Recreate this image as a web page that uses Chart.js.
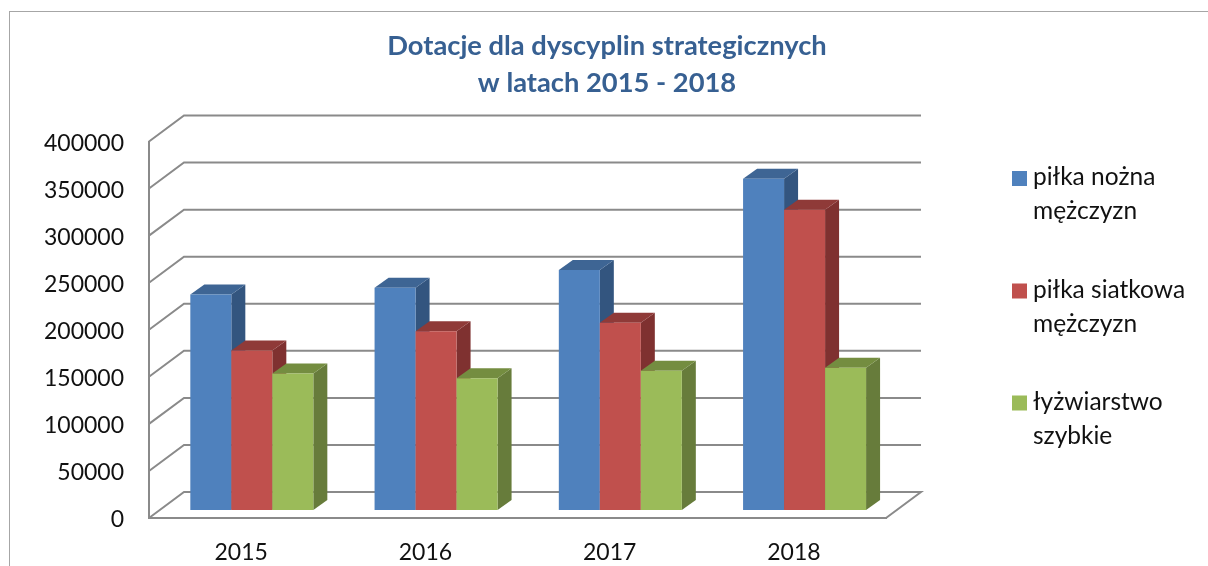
<!DOCTYPE html>
<html><head><meta charset="utf-8">
<style>
html,body{margin:0;padding:0;background:#fff;overflow:hidden}
#wrap{position:relative;width:1208px;height:566px}
#frame{position:absolute;left:9px;top:11px;width:1300px;height:700px;border:1px solid #a6a6a6;box-sizing:border-box}
canvas{position:absolute;left:0;top:0}
</style>
<script src="https://cdn.jsdelivr.net/npm/chart.js@4/dist/chart.umd.min.js"></script>
</head><body>
<div id="wrap"><div id="frame"></div><canvas id="c" width="1208" height="566"></canvas></div>
<script>
const categories = ['2015','2016','2017','2018'];
const pilkaNozna = [229000,236000,255000,352000];
const pilkaSiatkowa = [169500,190000,199000,319000];
const lyzwiarstwo = [145000,140000,148000,151000];
const legendNozna = ['piłka nożna','mężczyzn'];
const legendSiatkowa = ['piłka siatkowa','mężczyzn'];
const legendLyzwy = ['łyżwiarstwo','szybkie'];
const titleLines = ['Dotacje dla dyscyplin strategicznych','w latach 2015 - 2018'];

const FONT = 'Lato, Carlito, sans-serif';
const FS = 23;
const LFS = 24.5;
const front = ['#4f81bd','#c0504d','#9bbb59'];
const tops = ['#3e6594','#8f3a38','#748d40'];
const sides = ['#33557f','#7f3130','#677c3b'];
const GRID = '#8a8a8a';
const WALL = {dx:35, dy:-26};
const BAR = {ox:10.7, oy:-8, dx:14, dy:-10};
const legendLines = [legendNozna, legendSiatkowa, legendLyzwy];
const legendY = [178.5,291,403];

const box3d = {
  id:'box3d',
  afterLayout(chart){
    const s = chart.scales.y, orig = s.constructor.prototype.drawLabels;
    s.drawLabels = function(ca){
      this.ctx.save();
      this.ctx.translate(0,2);
      orig.call(this,ca);
      this.ctx.restore();
    };
  },
  beforeDatasetsDraw(chart){
    const ctx = chart.ctx, y = chart.scales.y, a = chart.chartArea;
    ctx.save();
    ctx.strokeStyle = GRID; ctx.lineWidth = 2; ctx.lineJoin='miter';
    y.ticks.forEach(t=>{
      const py = y.getPixelForValue(t.value);
      ctx.beginPath();
      ctx.moveTo(a.left,py);
      ctx.lineTo(a.left+WALL.dx,py+WALL.dy);
      ctx.lineTo(a.right+WALL.dx,py+WALL.dy);
      if(t.value===0){ ctx.lineTo(a.right,py); }
      ctx.stroke();
    });
    ctx.restore();
    chart.data.datasets.forEach((ds,i)=>{
      const meta = chart.getDatasetMeta(i);
      ctx.save();
      ctx.translate(BAR.ox,BAR.oy);
      meta.data.forEach(el=>{
        const p = el.getProps(['x','y','base','width'],true);
        const l = p.x-p.width/2, r = p.x+p.width/2;
        ctx.fillStyle = sides[i];
        ctx.beginPath();
        ctx.moveTo(r,p.y);ctx.lineTo(r+BAR.dx,p.y+BAR.dy);ctx.lineTo(r+BAR.dx,p.base+BAR.dy);ctx.lineTo(r,p.base);
        ctx.closePath();ctx.fill();
        ctx.fillStyle = tops[i];
        ctx.beginPath();
        ctx.moveTo(l,p.y);ctx.lineTo(l+BAR.dx,p.y+BAR.dy);ctx.lineTo(r+BAR.dx,p.y+BAR.dy);ctx.lineTo(r,p.y);
        ctx.closePath();ctx.fill();
      });
      meta.controller.draw();
      ctx.restore();
    });
    return false;
  },
  afterDraw(chart){
    const ctx = chart.ctx;
    ctx.save();
    ctx.font = LFS+'px '+FONT;
    ctx.textBaseline='middle'; ctx.textAlign='left';
    legendLines.forEach((lines,i)=>{
      ctx.fillStyle = front[i];
      ctx.fillRect(1012,legendY[i]-7.5,15,15);
      ctx.fillStyle = '#111';
      lines.forEach((s,j)=>ctx.fillText(s,1033,legendY[i]-1+j*34));
    });
    ctx.restore();
  }
};

new Chart(document.getElementById('c'),{
  type:'bar',
  data:{labels:categories,datasets:[
    {label:legendNozna.join(' '),data:pilkaNozna,backgroundColor:front[0]},
    {label:legendSiatkowa.join(' '),data:pilkaSiatkowa,backgroundColor:front[1]},
    {label:legendLyzwy.join(' '),data:lyzwiarstwo,backgroundColor:front[2]}
  ]},
  options:{
    responsive:false,animation:false,
    layout:{autoPadding:false,padding:{left:6,right:0,top:0,bottom:0}},
    datasets:{bar:{barPercentage:1,categoryPercentage:0.6676,borderWidth:0}},
    plugins:{
      legend:{display:false},tooltip:{enabled:false},
      title:{display:true,text:titleLines,color:'#376092',
        font:{family:FONT,size:27.3,weight:'bold',lineHeight:37/27.3},
        padding:{top:27.5,bottom:40}}
    },
    scales:{
      x:{grid:{display:false},border:{display:true,color:GRID,width:2},
        ticks:{color:'#111',font:{family:FONT,size:FS},padding:13,maxRotation:0},
        afterFit(s){s.height=48;}},
      y:{min:0,max:400000,grid:{display:false,drawTicks:false},border:{display:true,color:GRID,width:2},
        ticks:{stepSize:50000,color:'#111',font:{family:FONT,size:FS},padding:25,callback:v=>String(v)},
        afterFit(s){s.width=143;}},
      yr:{position:'right',display:true,grid:{display:false},border:{display:false},ticks:{display:false},
        afterFit(s){s.width=322;}}
    }
  },
  plugins:[box3d]
});
</script>
</body></html>
